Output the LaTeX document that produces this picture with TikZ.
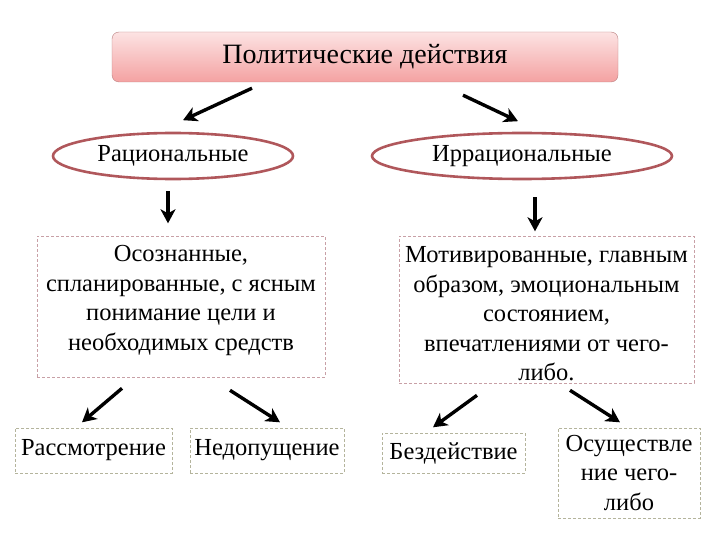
\documentclass[tikz,border=0pt]{standalone}
\usepackage{fontspec}
\setmainfont{Liberation Serif}
\usetikzlibrary{arrows.meta,shapes.geometric}

\definecolor{headtop}{HTML}{FCE3E3}
\definecolor{headbot}{HTML}{F4A2A2}
\definecolor{headline}{HTML}{B98080}
\definecolor{ovalline}{HTML}{B0575B}
\definecolor{dashred}{HTML}{C8A0A6}
\definecolor{dashgrn}{HTML}{B4B49C}

\tikzset{
  headbox/.style={draw=headline, rounded corners=7pt, top color=headtop, bottom color=headbot, font=\fontsize{28}{32}\selectfont},
  oval/.style={ellipse, draw=ovalline, line width=2.6pt, fill=white, inner sep=0pt},
  descbox/.style={draw=dashred, dashed, line width=0.6pt, dash pattern=on 3pt off 2pt},
  leafbox/.style={draw=dashgrn, dashed, line width=0.6pt, dash pattern=on 3pt off 2pt, fill=white, align=center},
  arr/.style={line width=3.4pt, -{Stealth[length=14pt,width=15pt,inset=4pt]}},
}

\begin{document}
\begin{tikzpicture}[x=1pt,y=-1pt,font=\fontsize{24.5}{29.5}\selectfont]
\useasboundingbox (0,0) rectangle (720,540);
% top
\node[headbox, minimum width=506, minimum height=50] (head) at (365,57) {Политические действия};
% kinds
\node[oval, minimum width=240, minimum height=46] (rat) at (173,156) {Рациональные};
\node[oval, minimum width=300, minimum height=46] (irr) at (522,156) {Иррациональные};
% descriptions
\node[descbox, minimum width=288, minimum height=141] (ratbox) at (181,306.5) {};
\node[align=center] (ratdesc) at (181,300.5) {Осознанные,\\спланированные, с ясным\\понимание цели и\\необходимых средств};
\node[descbox, minimum width=295, minimum height=147] (irrbox) at (546.5,309.5) {};
\node[align=center] (irrdesc) at (546.5,314) {Мотивированные, главным\\образом, эмоциональным\\состоянием,\\впечатлениями от чего-\\либо.};
% leaves
\node[leafbox, minimum width=157, minimum height=45] (look) at (93.5,450.5) {Рассмотрение};
\node[leafbox, minimum width=154, minimum height=45] (deny) at (267,450.5) {Недопущение};
\node[leafbox, minimum width=143, minimum height=40] (idle) at (453.5,453) {Бездействие};
\node[leafbox, minimum width=142, minimum height=90] (act) at (629,473) {Осуществле\\ние чего-\\либо};
% arrows
\draw[arr] (head.south) ++(-113,6) -- ++(-69,32);
\draw[arr] (head.south) ++(98,13) -- ++(55,26);
\draw[arr] (rat.south) ++(-5,11) -- ++(0,32);
\draw[arr] (irr.south) ++(13,17) -- ++(0,34);
\draw[arr] (ratbox.south) ++(-59,11) -- ++(-40,34);
\draw[arr] (ratbox.south) ++(49,13) -- ++(50,32);
\draw[arr] (irrbox.south) ++(-69.5,12) -- ++(-44,32);
\draw[arr] (irrbox.south) ++(23.5,7) -- ++(50,32);
\end{tikzpicture}
\end{document}
